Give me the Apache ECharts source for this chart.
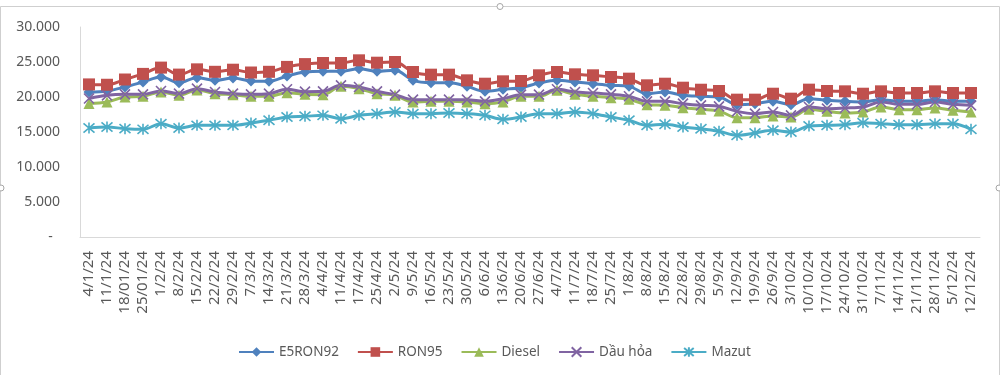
<!DOCTYPE html>
<html>
<head>
<meta charset="utf-8">
<title>Giá xăng dầu 2024</title>
<script src="https://cdn.jsdelivr.net/npm/echarts@6/dist/echarts.min.js"></script>
<style>
  html, body { margin: 0; padding: 0; background: #fff; }
  #chart { width: 1000px; height: 375px; }
</style>
</head>
<body>
<div id="chart"></div>
<script>
// ky dieu chinh gia (x axis)
var categories = ['4/1/24', '11/1/24', '18/01/24', '25/01/24', '1/2/24', '8/2/24', '15/2/24', '22/2/24', '29/2/24', '7/3/24',
    '14/3/24', '21/3/24', '28/3/24', '4/4/24', '11/4/24', '17/4/24', '25/4/24', '2/5/24', '9/5/24', '16/5/24',
    '23/5/24', '30/5/24', '6/6/24', '13/6/24', '20/6/24', '27/6/24', '4/7/24', '11/7/24', '18/7/24', '25/7/24',
    '1/8/24', '8/8/24', '15/8/24', '22/8/24', '29/8/24', '5/9/24', '12/9/24', '19/9/24', '26/9/24', '3/10/24',
    '10/10/24', '17/10/24', '24/10/24', '31/10/24', '7/11/24', '14/11/24', '21/11/24', '28/11/24', '5/12/24', '12/12/24'];

// gia tung loai (dong/lit)
var e5ron92 = [20700, 20860, 21430, 22140, 22860, 22050, 22760, 22380, 22710, 22290,
    22240, 23000, 23570, 23670, 23670, 24050, 23670, 23810, 22380, 22050,
    22050, 21520, 20810, 21100, 21330, 22000, 22380, 22140, 21900, 21670,
    21520, 20470, 20710, 20240, 20100, 20000, 18900, 19050, 19380, 18900,
    19760, 19520, 19380, 19290, 19620, 19380, 19380, 19620, 19380, 19380];
var ron95 = [21800, 21750, 22500, 23300, 24200, 23200, 23950, 23600, 23900, 23500,
    23600, 24300, 24700, 24860, 24860, 25240, 24900, 25000, 23570, 23190,
    23190, 22380, 21900, 22240, 22290, 23100, 23570, 23240, 23100, 22860,
    22620, 21670, 21900, 21330, 21040, 20860, 19620, 19620, 20470, 19760,
    21050, 20860, 20810, 20470, 20810, 20570, 20570, 20810, 20570, 20570];
var diesel = [19080, 19290, 20000, 20100, 20710, 20240, 21000, 20480, 20330, 20100,
    20100, 20620, 20380, 20330, 21520, 21190, 20480, 20240, 19290, 19380,
    19380, 19290, 19050, 19290, 20100, 20100, 20950, 20380, 20100, 19900,
    19670, 18900, 18810, 18480, 18240, 18000, 17050, 17050, 17290, 17140,
    18240, 17950, 17710, 17860, 18570, 18190, 18190, 18430, 18100, 17860];
var dauHoa = [19780, 20240, 20380, 20380, 20860, 20480, 21190, 20710, 20480, 20380,
    20480, 21100, 20760, 20810, 21670, 21430, 20810, 20330, 19620, 19620,
    19620, 19620, 19380, 19760, 20330, 20330, 21100, 20710, 20570, 20380,
    20100, 19380, 19380, 19050, 18810, 18670, 17950, 17620, 17860, 17380,
    18570, 18330, 18430, 18570, 19290, 18950, 18950, 19290, 18950, 18810];
var mazut = [15570, 15710, 15480, 15380, 16190, 15570, 15950, 15950, 15950, 16290,
    16670, 17140, 17240, 17380, 16900, 17380, 17620, 17860, 17620, 17620,
    17710, 17620, 17380, 16810, 17140, 17620, 17620, 17860, 17620, 17140,
    16670, 15950, 16100, 15710, 15470, 15100, 14520, 14860, 15240, 15000,
    15860, 15950, 16050, 16330, 16190, 16050, 16050, 16190, 16190, 15380];

var yTicks = [0, 5000, 10000, 15000, 20000, 25000, 30000];

var textColor = '#595959';
var axisColor = '#d9d9d9';
var fontName = '"Noto Sans", sans-serif';

// excel markers: X va dau sao (ve bang net)
var xSymbol = 'path://M0,0 L10,10 M10,0 L0,10';
var starSymbol = 'path://M0,0 L10,10 M10,0 L0,10 M5,-1 L5,11';

function makeSeries(name, data, color, symbol, size, stroke) {
    return {
        name: name,
        type: 'line',
        data: data,
        smooth: 0.35,
        symbol: symbol,
        symbolSize: size,
        showAllSymbol: true,
        lineStyle: { color: color, width: 3 },
        itemStyle: stroke ? { color: color, borderColor: color, borderWidth: 1.6 } : { color: color, borderWidth: 0 },
        emphasis: { disabled: true }
    };
}

var myChart = echarts.init(document.getElementById('chart'));

var option = {
    animation: false,
    textStyle: { fontFamily: fontName },
    grid: { left: 80, right: 20, top: 27, bottom: 138, containLabel: false },
    legend: {
        left: 233,
        top: 340,
        itemWidth: 35,
        itemHeight: 12,
        itemGap: 18,
        textStyle: { color: textColor, fontSize: 13.5, fontFamily: fontName },
        data: ['E5RON92', 'RON95', 'Diesel', 'Dầu hỏa', 'Mazut']
    },
    xAxis: {
        type: 'category',
        data: categories,
        boundaryGap: true,
        axisLine: { show: true, lineStyle: { color: axisColor, width: 1 } },
        axisTick: { show: false },
        splitLine: { show: false },
        axisLabel: {
            interval: 0,
            rotate: 90,
            margin: 14,
            color: textColor,
            fontSize: 15,
            fontFamily: fontName
        }
    },
    yAxis: {
        type: 'value',
        min: yTicks[0],
        max: yTicks[yTicks.length - 1],
        interval: yTicks[1] - yTicks[0],
        axisLine: { show: true, lineStyle: { color: axisColor, width: 1 } },
        axisTick: { show: false },
        splitLine: { show: false },
        axisLabel: {
            margin: 20,
            color: textColor,
            fontSize: 14,
            fontFamily: fontName,
            formatter: function (v) {
                if (v === 0) { return '-  '; }
                return String(v).replace(/\B(?=(\d{3})+(?!\d))/g, '.');
            }
        }
    },
    // khung chon cua excel
    graphic: [
        { type: 'rect', silent: true, shape: { x: 0.5, y: 6.5, width: 999, height: 380 },
          style: { fill: null, stroke: '#cfcfcf', lineWidth: 1 } },
        { type: 'circle', silent: true, shape: { cx: 500, cy: 6.5, r: 3 }, style: { fill: '#fff', stroke: '#a6a6a6' } },
        { type: 'circle', silent: true, shape: { cx: 1, cy: 188, r: 3 }, style: { fill: '#fff', stroke: '#a6a6a6' } },
        { type: 'circle', silent: true, shape: { cx: 999, cy: 188, r: 3 }, style: { fill: '#fff', stroke: '#a6a6a6' } }
    ],
    series: [
        makeSeries('E5RON92', e5ron92, '#4f81bd', 'diamond', 11, false),
        makeSeries('RON95', ron95, '#c0504d', 'rect', 12, false),
        makeSeries('Diesel', diesel, '#9bbb59', 'triangle', 11, false),
        makeSeries('Dầu hỏa', dauHoa, '#8064a2', xSymbol, 10, true),
        makeSeries('Mazut', mazut, '#4bacc6', starSymbol, 11, true)
    ]
};

myChart.setOption(option);
</script>
</body>
</html>
